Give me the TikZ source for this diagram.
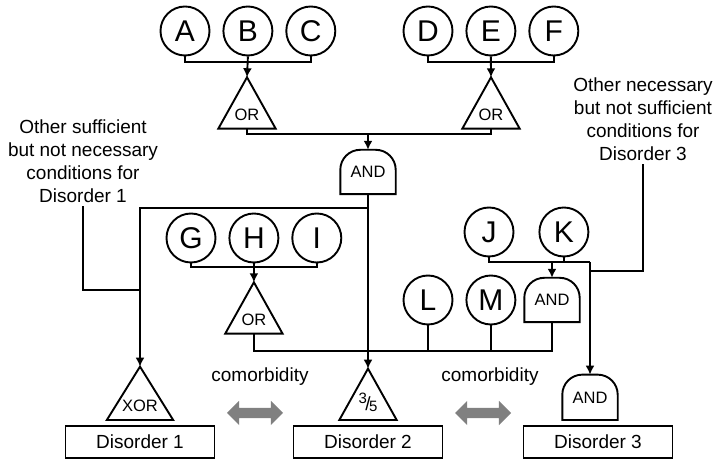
\documentclass[tikz,border=0pt]{standalone}
\usepackage{fontspec}
\setmainfont{Liberation Sans}
\usetikzlibrary{arrows.meta,positioning,shapes.arrows}

\begin{document}
\begin{tikzpicture}[
    x=1pt, y=1pt,
    cause/.style={circle, draw, line width=1.9pt, minimum size=49pt, inner sep=0pt, font=\fontsize{30}{30}\selectfont},
    gateline/.style={line width=1.9pt, line join=miter},
    orgate/.style={minimum width=57pt, minimum height=51pt, inner sep=0pt, text height=43pt, text depth=8pt, font=\fontsize{16.5}{18}\selectfont,
        append after command={\pgfextra{\draw[gateline] (\tikzlastnode.south west) -- (\tikzlastnode.north) -- (\tikzlastnode.south east) -- cycle;}}},
    andgate/.style={minimum width=55pt, minimum height=44pt, inner sep=0pt, font=\fontsize{16.5}{18}\selectfont,
        append after command={\pgfextra{\draw[gateline] (\tikzlastnode.south west) -- ([yshift=-20pt]\tikzlastnode.north west) to[out=90,in=180] ([xshift=20pt]\tikzlastnode.north west) -- ([xshift=-20pt]\tikzlastnode.north east) to[out=0,in=90] ([yshift=-20pt]\tikzlastnode.north east) -- (\tikzlastnode.south east) -- cycle;}}},
    disorder/.style={draw, line width=1.9pt, minimum width=149pt, minimum height=32pt, inner sep=0pt, font=\fontsize{19}{23}\selectfont},
    note/.style={align=center, font=\fontsize{19}{23}\selectfont},
    wire/.style={line width=1.9pt},
    arrow/.style={wire, -{Latex[length=9pt, width=9pt]}},
    comorb/.style={double arrow, fill=black!50, draw=none, minimum height=56pt, inner sep=0pt, text height=5pt, text depth=5pt, double arrow head extend=7pt, double arrow tip angle=90}
]
\useasboundingbox (0,0) rectangle (718,460);

% ===== TOP CAUSES =====
\node[cause] (A) at (185,429) {A};
\node[cause, right=12pt of A] (B) {B};
\node[cause, right=12pt of B] (C) {C};
\node[cause] (D) at (428,429) {D};
\node[cause, right=12pt of D] (E) {E};
\node[cause, right=12pt of E] (F) {F};

\node[orgate] (orA) at (247,357) {OR};
\node[orgate] (orB) at (491,357) {OR};
\node[andgate] (andM) at (368,288) {AND};

\coordinate (barABC) at (247,398);
\coordinate (barDEF) at (491,398);
\coordinate (joinAB) at (368,326);
\draw[wire] (A.south) |- (barABC) -| (C.south);
\draw[wire] (D.south) |- (barDEF) -| (F.south);
\draw[arrow] (B.south) -- (orA.north);
\draw[arrow] (E.south) -- (orB.north);
\draw[wire] (orA.south) |- (joinAB) -| (orB.south);
\draw[arrow] (joinAB) -- (andM.north);

% ===== MIDDLE CAUSES =====
\node[cause] (G) at (191,222) {G};
\node[cause, right=12pt of G] (H) {H};
\node[cause, right=12pt of H] (I) {I};
\node[orgate] (orC) at (H |- 0,152) {OR};

\node[cause] (J) at (489,228) {J};
\node[cause, right=24pt of J] (K) {K};
\node[cause] (L) at (428,160) {L};
\node[cause, right=12pt of L] (M) {M};
\node[andgate] (andJK) at (552,160) {AND};

\coordinate (barGHI) at (H |- 0,193);
\coordinate (barLM) at (368,109);
\coordinate (barJK) at (590,198);
\draw[wire] (G.south) |- (barGHI) -| (I.south);
\draw[arrow] (H.south) -- (orC.north);
\draw[wire] (orC.south) |- (barLM) -| (andJK.south);
\draw[wire] (L.south) -- (L.south |- barLM);
\draw[wire] (M.south) -- (M.south |- barLM);
\draw[wire] (J.south) |- (barJK);
\draw[wire] (K.south) -- (K.south |- barJK);
\draw[arrow] (andJK.north |- barJK) -- (andJK.north);

% ===== DISORDERS =====
\node[disorder] (dis1) at (140,18) {Disorder 1};
\node[disorder] (dis2) at (368,18) {Disorder 2};
\node[disorder] (dis3) at (598,18) {Disorder 3};
\node[orgate, minimum width=66pt, minimum height=53pt, text height=45pt, above=5pt of dis1] (xor) {XOR};
\node[orgate, above=5pt of dis2] (frac) {\fontsize{15}{15}\selectfont\raisebox{8pt}{3}\kern-1.5pt\raisebox{1pt}{\fontsize{19}{19}\selectfont/}\kern-1.5pt5};
\node[andgate, minimum height=45pt, above=5pt of dis3, xshift=-8pt] (and3) {AND};

\coordinate (split) at (368,252);
\draw[arrow] (andM.south) -- (frac.north);
\draw[arrow] (split) -| (xor.north);
\draw[arrow] (barJK) -- (and3.north);

% ===== OTHER CONDITIONS =====
\node[note] (noteL) at (83,299) {Other sufficient\\but not necessary\\conditions for\\Disorder 1};
\node[note] (noteR) at (643,341) {Other necessary\\but not sufficient\\conditions for\\Disorder 3};
\coordinate (joinL) at (xor.north |- 0,170);
\coordinate (joinR) at (590,189);
\draw[wire] (noteL.south) |- (joinL);
\draw[wire] (noteR.south) |- (joinR);

% ===== COMORBIDITY =====
\node[note] (como12) at (260,83) {comorbidity};
\node[note] (como23) at (490,83) {comorbidity};
\node[comorb] (arr12) at (255,47) {};
\node[comorb] (arr23) at (483,47) {};

\end{tikzpicture}
\end{document}
